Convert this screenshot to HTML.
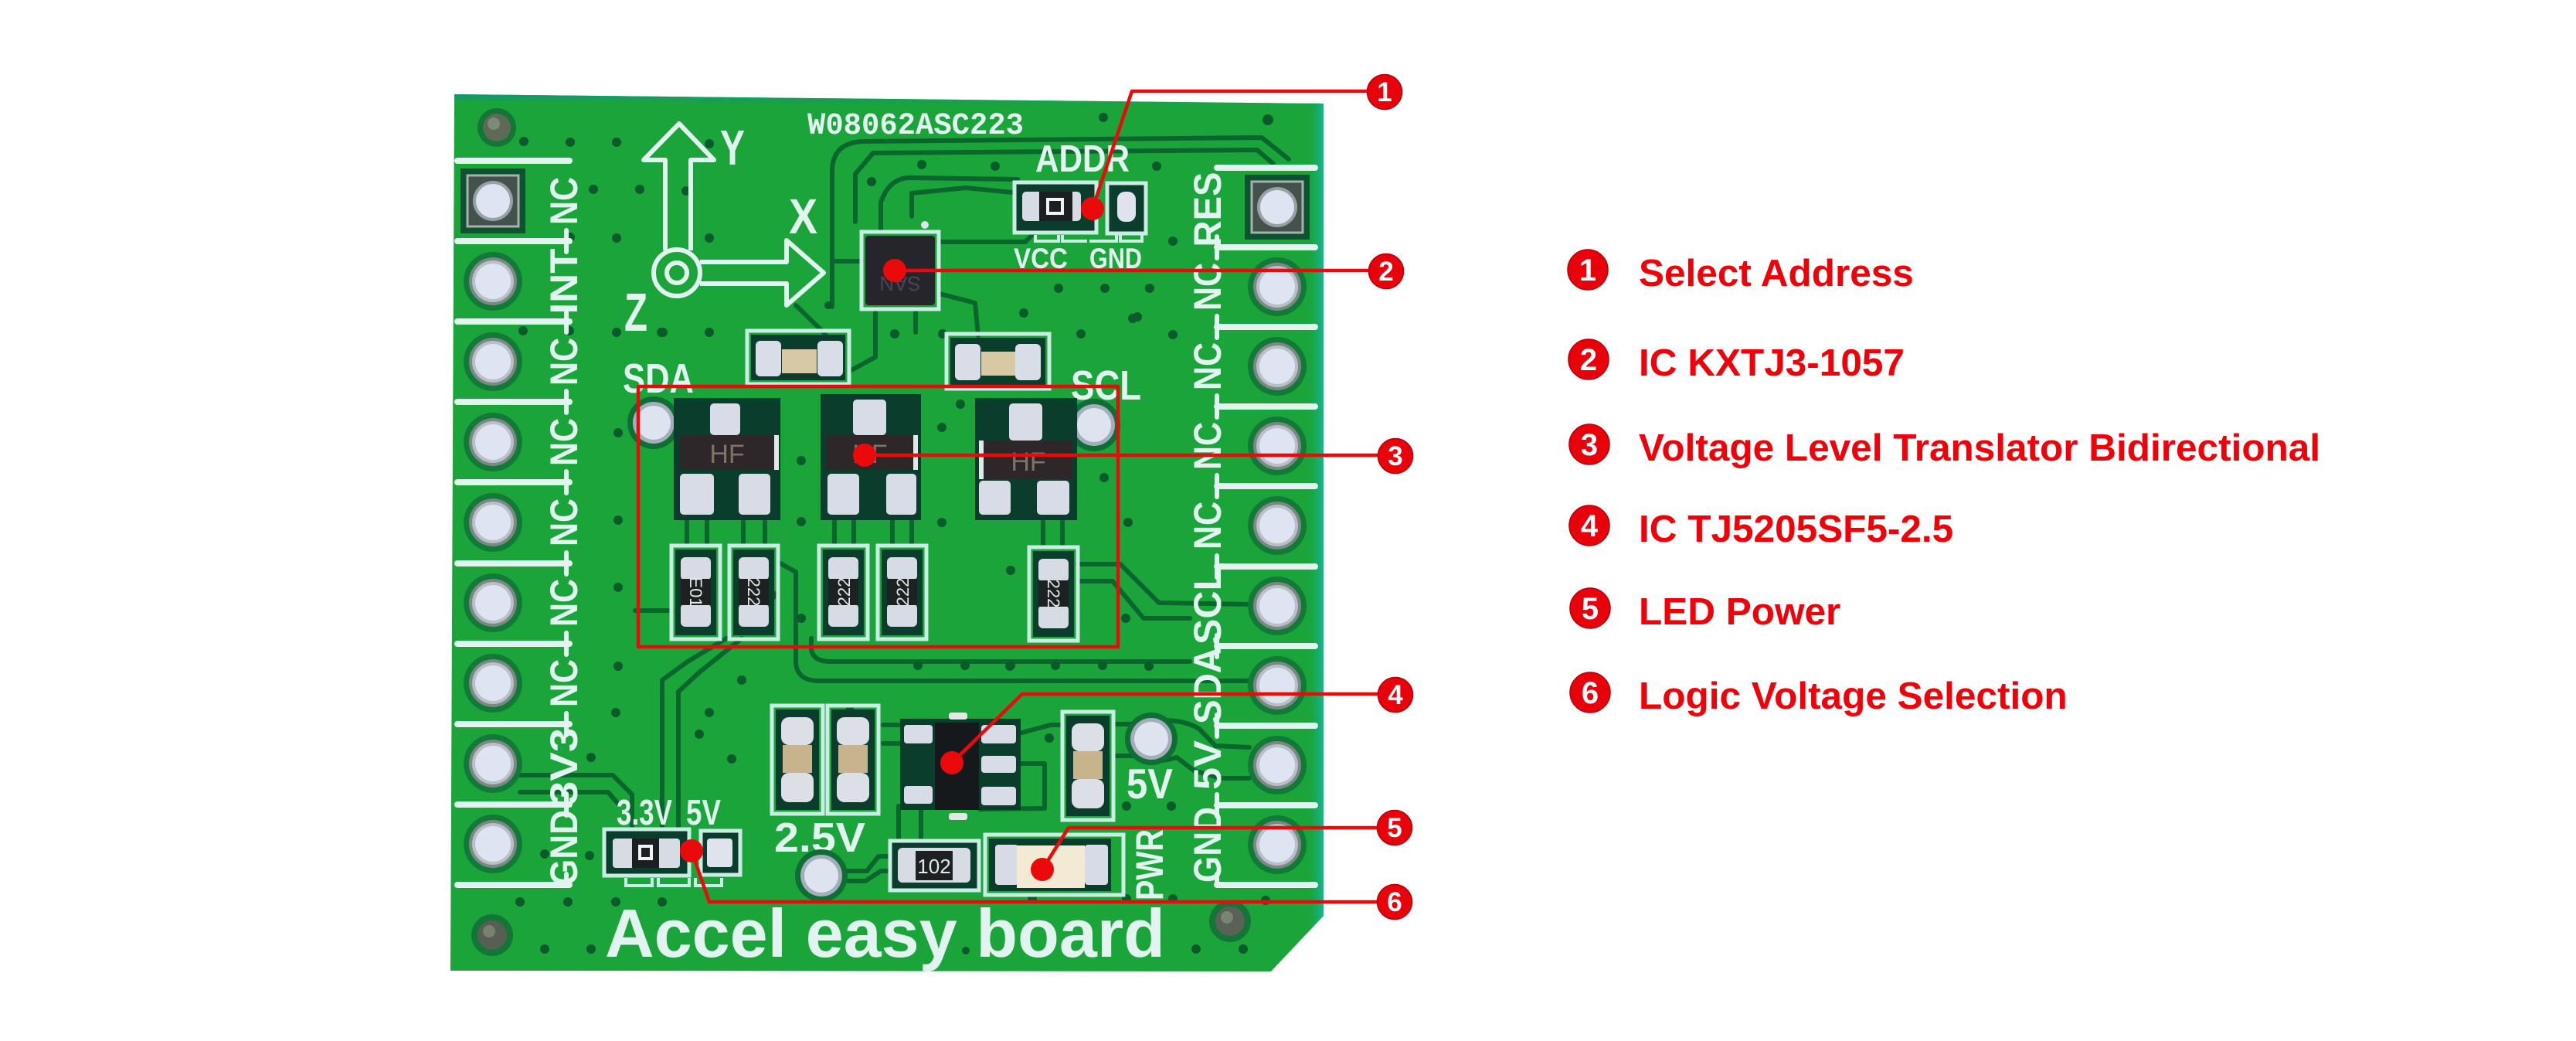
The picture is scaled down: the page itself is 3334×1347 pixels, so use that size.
<!DOCTYPE html>
<html><head><meta charset="utf-8"><style>
html,body{margin:0;padding:0;background:#fff;}
svg{display:block;}
.sk{font-family:"Liberation Sans",sans-serif;font-weight:bold;fill:#e2f4ef;}
.lg{font-family:"Liberation Sans",sans-serif;font-weight:bold;fill:#f00008;font-size:49.5px;}
.num{font-family:"Liberation Sans",sans-serif;font-weight:bold;fill:#fff;text-anchor:middle;}
</style></head><body>
<svg width="3334" height="1347" viewBox="0 0 3334 1347" xmlns="http://www.w3.org/2000/svg">
<defs>
<linearGradient id="edgeR" x1="0" x2="1" y1="0" y2="0">
<stop offset="0" stop-color="#1ba43a" stop-opacity="0"/><stop offset="1" stop-color="#12b89a" stop-opacity="1"/></linearGradient>
<linearGradient id="edgeT" x1="0" x2="0" y1="0" y2="1">
<stop offset="0" stop-color="#12947a"/><stop offset="1" stop-color="#1ba43a" stop-opacity="0"/></linearGradient>
<g id="pr"><circle r="38" fill="#127a37"/><circle r="31" fill="#7b8884"/><circle r="27" fill="#b7c0c6"/><circle r="23" fill="#dee4f1"/></g>
<g id="ps"><rect x="-42" y="-42" width="84" height="84" fill="#0d5330"/><rect x="-33" y="-33" width="66" height="66" fill="#44524e" stroke="#a9b1ae" stroke-width="3"/><circle r="26" fill="#98a1a3"/><circle r="22" fill="#dee4f1"/></g>
<g id="tp"><circle r="34" fill="#0f6e33"/><circle r="27" fill="#a3adbb"/><circle r="22" fill="#dde3ef"/></g>
<g id="vr"><rect x="-31" y="-60" width="63" height="121" fill="none" stroke="#c9ede4" stroke-width="5"/><rect x="-26" y="-55" width="53" height="111" fill="#0a3d2b"/><rect x="-19" y="-45" width="39" height="30" rx="6" fill="#d6dbe4"/><rect x="-19" y="15" width="39" height="30" rx="6" fill="#d6dbe4"/><rect x="-19" y="-17" width="39" height="34" fill="#1d2122"/></g>
<g id="bc"><rect x="-33" y="-70" width="66" height="140" fill="none" stroke="#c9ede4" stroke-width="5"/><rect x="-28" y="-65" width="56" height="130" fill="#0a3d2b"/><rect x="-21" y="-55" width="42" height="36" rx="10" fill="#dcdfe6"/><rect x="-19" y="-19" width="38" height="36" fill="#c8b48c"/><rect x="-21" y="17" width="42" height="38" rx="10" fill="#dcdfe6"/></g>
</defs>

<!-- PCB -->
<path d="M588,122 L1713,134 L1713,1185 L1645,1257 L583,1256 Z" fill="#1ba43a"/>
<path d="M1690,133 L1713,134 L1713,1185 L1690,1210 Z" fill="url(#edgeR)"/>
<path d="M588,122 L1713,134 L1713,142 L588,130 Z" fill="url(#edgeT)"/>

<!-- traces -->
<g fill="none" stroke="#0b662d" stroke-width="6" stroke-linejoin="round" stroke-linecap="round">
<path d="M1077,397 L1077,222 Q1077,183 1120,183 L1633,178 L1668,206"/>
<path d="M1107,287 L1107,225 L1130,198 L1627,194 L1648,212"/>
<path d="M1140,297 L1140,262 Q1150,232 1175,230 L1317,232"/>
<path d="M1180,280 L1180,250 L1250,243 L1320,250"/>
<path d="M1215,313 L1327,313 L1340,300"/>
<path d="M1077,338 L1115,338"/>
<path d="M1133,400 L1133,462 L1100,480"/>
<path d="M1185,400 L1185,430"/>
<path d="M1216,380 L1262,392 L1266,434"/>
<path d="M1030,395 L1068,432"/>
<path d="M889,666 L889,705 M915,666 L915,705 M962,666 L962,705 M990,666 L990,705"/>
<path d="M1080,666 L1080,705 M1105,666 L1105,705 M1155,666 L1155,705 M1180,666 L1180,705"/>
<path d="M1350,666 L1350,708 M1375,666 L1375,708"/>
<path d="M1008,728 L1030,740 L1030,855 Q1030,881 1060,881 L1618,881"/>
<path d="M1050,826 L1050,840 Q1052,856 1075,856 L1540,856"/>
<path d="M1395,730 L1450,730 L1500,780 L1618,782"/>
<path d="M1395,752 L1440,752 L1480,800 L1540,800"/>
<path d="M960,826 L905,870 L878,895 L878,1073"/>
<path d="M940,826 L890,856 L857,880 L857,1073"/>
<path d="M673,1003 L793,1003 L818,1028 L818,1073"/>
<path d="M673,1025 L787,1025 L800,1040"/>
<path d="M822,790 L869,790"/>
<path d="M1143,938 L1170,938 M1143,962 L1170,962"/>
<path d="M1163,1043 L1163,1088 M1192,1043 L1192,1088"/>
<path d="M1315,950 L1360,938 L1372,938"/>
<path d="M1315,988 L1352,988 L1352,1046 L1268,1047"/>
<path d="M1444,937 L1465,937 M1501,933 Q1530,930 1552,943 L1573,965 L1617,967"/>
<path d="M1444,978 L1469,978 Q1490,990 1523,980 L1545,997 L1580,1007 L1617,1007"/>
<path d="M1090,1127 L1122,1127 L1137,1108 L1152,1108"/>
<path d="M1093,1140 L1120,1140 L1140,1127 L1152,1127"/>
<path d="M874,547 L905,540 L919,540"/>
<path d="M1388,550 L1360,545"/>
</g>

<!-- vias -->
<g fill="#0a5b2a">
<circle cx="678" cy="183" r="6"/><circle cx="738" cy="184" r="6"/><circle cx="798" cy="184" r="6"/><circle cx="918" cy="186" r="6"/>
<circle cx="768" cy="245" r="6"/><circle cx="828" cy="245" r="6"/><circle cx="888" cy="247" r="6"/>
<circle cx="738" cy="307" r="6"/><circle cx="798" cy="308" r="6"/><circle cx="918" cy="308" r="6"/>
<circle cx="677" cy="428" r="6"/><circle cx="737" cy="428" r="6"/><circle cx="798" cy="430" r="6"/><circle cx="858" cy="430" r="6"/><circle cx="918" cy="430" r="6"/>
<circle cx="1428" cy="152" r="6"/><circle cx="1497" cy="215" r="6"/><circle cx="1518" cy="312" r="6"/><circle cx="1641" cy="155" r="7"/>
<circle cx="1370" cy="373" r="6"/><circle cx="1430" cy="373" r="6"/><circle cx="1488" cy="373" r="6"/>
<circle cx="1325" cy="405" r="6"/><circle cx="1472" cy="410" r="6"/><circle cx="1518" cy="433" r="6"/>
<circle cx="1193" cy="213" r="6"/><circle cx="1288" cy="215" r="6"/><circle cx="1128" cy="235" r="6"/>
<circle cx="1072" cy="395" r="5"/><circle cx="1158" cy="432" r="6"/><circle cx="1220" cy="432" r="6"/>
<circle cx="856" cy="430" r="6"/><circle cx="1399" cy="432" r="6"/><circle cx="1466" cy="412" r="6"/>
<circle cx="987" cy="538" r="6"/><circle cx="1037" cy="596" r="6"/><circle cx="1219" cy="553" r="6"/><circle cx="1243" cy="523" r="6"/>
<circle cx="1429" cy="618" r="6"/><circle cx="1037" cy="675" r="6"/><circle cx="1219" cy="676" r="6"/><circle cx="1460" cy="676" r="6"/>
<circle cx="1308" cy="738" r="6"/><circle cx="1457" cy="800" r="6"/><circle cx="1037" cy="800" r="6"/>
<circle cx="1188" cy="861" r="6"/><circle cx="1249" cy="861" r="6"/><circle cx="1308" cy="861" r="6"/><circle cx="1366" cy="861" r="6"/><circle cx="1427" cy="861" r="6"/>
<circle cx="1307" cy="862" r="6"/><circle cx="1487" cy="862" r="6"/>
<circle cx="800" cy="673" r="6"/><circle cx="800" cy="560" r="6"/><circle cx="800" cy="760" r="6"/><circle cx="800" cy="862" r="6"/>
<circle cx="797" cy="922" r="6"/><circle cx="918" cy="922" r="6"/><circle cx="905" cy="950" r="6"/><circle cx="765" cy="980" r="6"/><circle cx="947" cy="982" r="6"/>
<circle cx="705" cy="1105" r="6"/><circle cx="763" cy="1107" r="6"/>
<circle cx="673" cy="1167" r="6"/><circle cx="735" cy="1167" r="6"/><circle cx="797" cy="1167" r="6"/><circle cx="857" cy="1167" r="6"/>
<circle cx="705" cy="1228" r="6"/><circle cx="765" cy="1228" r="6"/>
<circle cx="1358" cy="955" r="6"/><circle cx="1458" cy="1043" r="6"/><circle cx="1516" cy="1043" r="6"/>
<circle cx="1336" cy="1163" r="6"/><circle cx="1458" cy="1163" r="6"/><circle cx="1518" cy="1163" r="6"/><circle cx="1638" cy="1165" r="6"/>
<circle cx="1548" cy="1228" r="6"/><circle cx="1609" cy="1228" r="6"/><circle cx="1250" cy="1230" r="5"/>
<circle cx="1000" cy="770" r="6"/><circle cx="960" cy="880" r="6"/><circle cx="1100" cy="920" r="6"/>
</g>

<!-- mounting holes -->
<circle cx="643" cy="165" r="25" fill="#137637"/><circle cx="643" cy="165" r="18" fill="#5d6a56"/><circle cx="639" cy="160" r="8" fill="#7e8a76"/>
<circle cx="637" cy="1210" r="27" fill="#137637"/><circle cx="637" cy="1210" r="19" fill="#565f52"/><circle cx="633" cy="1205" r="8" fill="#78826f"/>
<circle cx="1592" cy="1192" r="27" fill="#137637"/><circle cx="1592" cy="1192" r="19" fill="#5a6156"/><circle cx="1588" cy="1187" r="8" fill="#7b8474"/>

<!-- separator lines -->
<g stroke="#e2f4ef" stroke-width="8" stroke-linecap="round" fill="none">
<path d="M592,208 H737 M592,312 H737 M592,416 H737 M592,520 H737 M592,624 H737 M592,729 H737 M592,833 H737 M592,937 H737 M592,1041 H737 M592,1145 H737"/>
<path d="M1575,217 H1702 M1575,320 H1702 M1575,423 H1702 M1575,526 H1702 M1575,629 H1702 M1575,733 H1702 M1575,836 H1702 M1575,939 H1702 M1575,1042 H1702 M1575,1145 H1702"/>
<path d="M733,298 V326 M733,402 V430 M733,506 V534 M733,610 V638 M733,715 V743 M733,819 V847 M733,923 V951 M733,1027 V1055 M733,1131 V1145" stroke-width="6"/>
<path d="M1575,306 V334 M1575,409 V437 M1575,512 V540 M1575,615 V643 M1575,719 V747 M1575,822 V850 M1575,925 V953 M1575,1028 V1056 M1575,1131 V1145" stroke-width="6"/>
</g>

<!-- pins -->
<use href="#ps" x="638" y="260"/>
<use href="#pr" x="638" y="364"/><use href="#pr" x="638" y="468"/><use href="#pr" x="638" y="572"/><use href="#pr" x="638" y="676"/>
<use href="#pr" x="638" y="780"/><use href="#pr" x="638" y="884"/><use href="#pr" x="638" y="988"/><use href="#pr" x="638" y="1092"/>
<use href="#ps" x="1653" y="268"/>
<use href="#pr" x="1653" y="371"/><use href="#pr" x="1653" y="474"/><use href="#pr" x="1653" y="577"/><use href="#pr" x="1653" y="680"/>
<use href="#pr" x="1653" y="784"/><use href="#pr" x="1653" y="887"/><use href="#pr" x="1653" y="990"/><use href="#pr" x="1653" y="1093"/>

<!-- pin labels -->
<g class="sk" font-size="50" text-anchor="middle">
<text transform="translate(729,260) rotate(-90)" y="18" textLength="62" lengthAdjust="spacingAndGlyphs">NC</text>
<text transform="translate(729,364) rotate(-90)" y="18" textLength="85" lengthAdjust="spacingAndGlyphs">INT</text>
<text transform="translate(729,468) rotate(-90)" y="18" textLength="62" lengthAdjust="spacingAndGlyphs">NC</text>
<text transform="translate(729,572) rotate(-90)" y="18" textLength="62" lengthAdjust="spacingAndGlyphs">NC</text>
<text transform="translate(729,676) rotate(-90)" y="18" textLength="62" lengthAdjust="spacingAndGlyphs">NC</text>
<text transform="translate(729,780) rotate(-90)" y="18" textLength="62" lengthAdjust="spacingAndGlyphs">NC</text>
<text transform="translate(729,884) rotate(-90)" y="18" textLength="62" lengthAdjust="spacingAndGlyphs">NC</text>
<text transform="translate(729,992) rotate(-90)" y="18" textLength="100" lengthAdjust="spacingAndGlyphs">3V3</text>
<text transform="translate(729,1097) rotate(-90)" y="18" textLength="98" lengthAdjust="spacingAndGlyphs">GND</text>
<text transform="translate(1562,271) rotate(-90)" y="18" textLength="97" lengthAdjust="spacingAndGlyphs">RES</text>
<text transform="translate(1562,371) rotate(-90)" y="18" textLength="62" lengthAdjust="spacingAndGlyphs">NC</text>
<text transform="translate(1562,474) rotate(-90)" y="18" textLength="62" lengthAdjust="spacingAndGlyphs">NC</text>
<text transform="translate(1562,577) rotate(-90)" y="18" textLength="62" lengthAdjust="spacingAndGlyphs">NC</text>
<text transform="translate(1562,680) rotate(-90)" y="18" textLength="62" lengthAdjust="spacingAndGlyphs">NC</text>
<text transform="translate(1562,784) rotate(-90)" y="18" textLength="100" lengthAdjust="spacingAndGlyphs">SCL</text>
<text transform="translate(1562,887) rotate(-90)" y="18" textLength="100" lengthAdjust="spacingAndGlyphs">SDA</text>
<text transform="translate(1562,990) rotate(-90)" y="18" textLength="64" lengthAdjust="spacingAndGlyphs">5V</text>
<text transform="translate(1562,1093) rotate(-90)" y="18" textLength="98" lengthAdjust="spacingAndGlyphs">GND</text>
<text transform="translate(1487,1119) rotate(-90)" y="18" textLength="92" lengthAdjust="spacingAndGlyphs">PWR</text>
</g>

<!-- other silkscreen text -->
<g class="sk">
<text x="1045" y="173" font-size="40" textLength="280" lengthAdjust="spacingAndGlyphs" font-family="Liberation Mono, monospace">W08062ASC223</text>
<text x="1340" y="222" font-size="49" textLength="122" lengthAdjust="spacingAndGlyphs">ADDR</text>
<text x="1312" y="347" font-size="37" textLength="70" lengthAdjust="spacingAndGlyphs">VCC</text>
<text x="1410" y="347" font-size="37" textLength="68" lengthAdjust="spacingAndGlyphs">GND</text>
<text x="806" y="508" font-size="54" textLength="92" lengthAdjust="spacingAndGlyphs">SDA</text>
<text x="1386" y="517" font-size="54" textLength="91" lengthAdjust="spacingAndGlyphs">SCL</text>
<text x="1002" y="1102" font-size="54" textLength="118" lengthAdjust="spacingAndGlyphs">2.5V</text>
<text x="1458" y="1033" font-size="55" textLength="60" lengthAdjust="spacingAndGlyphs">5V</text>
<text x="798" y="1067" font-size="46" textLength="72" lengthAdjust="spacingAndGlyphs">3.3V</text>
<text x="888" y="1067" font-size="46" textLength="45" lengthAdjust="spacingAndGlyphs">5V</text>
<text x="932" y="213" font-size="64" textLength="32" lengthAdjust="spacingAndGlyphs">Y</text>
<text x="1021" y="302" font-size="64" textLength="37" lengthAdjust="spacingAndGlyphs">X</text>
<text x="808" y="428" font-size="70" textLength="30" lengthAdjust="spacingAndGlyphs">Z</text>
<text x="783" y="1238" font-size="88" textLength="725" lengthAdjust="spacingAndGlyphs">Accel easy board</text>
</g>

<!-- axis symbol -->
<g fill="none" stroke="#e2f4ef" stroke-width="6" stroke-linejoin="round">
<circle cx="876" cy="353" r="30"/><circle cx="876" cy="353" r="13"/>
<path d="M861,324 L861,207 L833,207 L879,160 L924,207 L894,207 L894,324"/>
<path d="M906,339 L1018,339 L1018,311 L1066,353 L1018,395 L1018,367 L906,367"/>
</g>

<!-- ADDR jumper -->
<rect x="1313" y="236" width="106" height="65" fill="#0a3d2b" stroke="#c9ede4" stroke-width="5"/>
<rect x="1323" y="248" width="76" height="38" rx="5" fill="#d6dbe4"/>
<rect x="1345" y="248" width="43" height="38" fill="#1b1f21"/>
<rect x="1356" y="258" width="19" height="18" fill="none" stroke="#f2f2f2" stroke-width="4"/>
<rect x="1433" y="237" width="50" height="65" fill="#0a3d2b" stroke="#c9ede4" stroke-width="5"/>
<rect x="1446" y="248" width="24" height="39" rx="10" fill="#dfe3ee"/>
<path d="M1340,304 v8 h30 v-8 M1375,304 v8 h32 M1410,312 h35 v-8 M1450,304 v8 h28 v-8" fill="none" stroke="#c9ede4" stroke-width="4"/>

<!-- accelerometer IC -->
<rect x="1115" y="300" width="100" height="100" fill="none" stroke="#c9ede4" stroke-width="5"/>
<rect x="1120" y="305" width="90" height="90" rx="4" fill="#27252c"/>
<text x="1165" y="342" transform="rotate(180 1165 350)" font-family="Liberation Sans,sans-serif" font-size="26" fill="#4a4650" text-anchor="middle">SAN</text>
<circle cx="1197" cy="291" r="5" fill="#dfe3ee"/>

<!-- top caps -->
<rect x="967" y="428" width="132" height="69" fill="none" stroke="#c9ede4" stroke-width="5"/>
<rect x="972" y="433" width="122" height="59" fill="#0a3d2b"/>
<rect x="978" y="441" width="33" height="46" rx="6" fill="#d9dde8"/><rect x="1058" y="441" width="33" height="46" rx="6" fill="#d9dde8"/>
<rect x="1012" y="452" width="45" height="31" fill="#d8c9a5"/>
<rect x="1225" y="432" width="133" height="71" fill="none" stroke="#c9ede4" stroke-width="5"/>
<rect x="1230" y="437" width="123" height="61" fill="#0a3d2b"/>
<rect x="1236" y="445" width="33" height="47" rx="6" fill="#d9dde8"/><rect x="1314" y="445" width="33" height="47" rx="6" fill="#d9dde8"/>
<rect x="1270" y="455" width="44" height="31" fill="#d8c9a5"/>

<!-- test pads -->
<use href="#tp" x="846" y="547"/><use href="#tp" x="1416" y="550"/><use href="#tp" x="1490" y="956"/><use href="#tp" x="1063" y="1133"/>

<!-- transistors -->
<g>
<rect x="872" y="515" width="138" height="158" fill="#0a3d2b"/>
<rect x="919" y="522" width="39" height="41" rx="5" fill="#d8dce7"/>
<rect x="880" y="563" width="122" height="45" fill="#2d2729"/>
<rect x="1002" y="563" width="6" height="45" fill="#dfe9e6"/>
<text x="941" y="599" font-family="Liberation Sans,sans-serif" font-size="34" fill="#7d7466" text-anchor="middle">HF</text>
<rect x="880" y="613" width="44" height="53" rx="5" fill="#d8dce7"/><rect x="956" y="613" width="41" height="53" rx="5" fill="#d8dce7"/>

<rect x="1062" y="510" width="130" height="163" fill="#0a3d2b"/>
<rect x="1104" y="517" width="43" height="46" rx="5" fill="#d8dce7"/>
<rect x="1069" y="563" width="113" height="45" fill="#2d2729"/>
<rect x="1182" y="563" width="6" height="45" fill="#dfe9e6"/>
<text x="1126" y="599" font-family="Liberation Sans,sans-serif" font-size="34" fill="#7d7466" text-anchor="middle">HF</text>
<rect x="1071" y="613" width="41" height="53" rx="5" fill="#d8dce7"/><rect x="1147" y="613" width="39" height="53" rx="5" fill="#d8dce7"/>

<rect x="1262" y="515" width="132" height="158" fill="#0a3d2b"/>
<rect x="1306" y="522" width="43" height="48" rx="5" fill="#d8dce7"/>
<rect x="1273" y="570" width="115" height="50" fill="#2d2729"/>
<rect x="1267" y="570" width="6" height="50" fill="#dfe9e6"/>
<text x="1331" y="609" font-family="Liberation Sans,sans-serif" font-size="34" fill="#7d7466" text-anchor="middle">HF</text>
<rect x="1267" y="622" width="41" height="44" rx="5" fill="#d8dce7"/><rect x="1342" y="622" width="42" height="44" rx="5" fill="#d8dce7"/>
</g>

<!-- resistors -->
<use href="#vr" x="900" y="766"/><use href="#vr" x="975" y="766"/><use href="#vr" x="1091" y="766"/><use href="#vr" x="1167" y="766"/><use href="#vr" x="1363" y="768"/>
<g font-family="Liberation Sans,sans-serif" font-size="22" fill="#e8e8e8" text-anchor="middle">
<text transform="translate(901,766) rotate(90)" y="8">E01</text>
<text transform="translate(976,766) rotate(90)" y="8">222</text>
<text transform="translate(1092,766) rotate(-90)" y="8">222</text>
<text transform="translate(1168,766) rotate(-90)" y="8">222</text>
<text transform="translate(1364,768) rotate(90)" y="8">222</text>
</g>

<!-- bottom caps -->
<use href="#bc" x="1032" y="983"/><use href="#bc" x="1104" y="983"/><use href="#bc" x="1408" y="991"/>

<!-- regulator -->
<rect x="1165" y="930" width="156" height="118" fill="#0a3d2b"/>
<rect x="1170" y="938" width="37" height="24" rx="4" fill="#d8dce7"/><rect x="1170" y="1017" width="37" height="23" rx="4" fill="#d8dce7"/>
<rect x="1270" y="938" width="45" height="24" rx="4" fill="#d8dce7"/><rect x="1270" y="978" width="45" height="22" rx="4" fill="#d8dce7"/><rect x="1270" y="1018" width="45" height="24" rx="4" fill="#d8dce7"/>
<rect x="1210" y="935" width="57" height="113" fill="#16191c"/>
<rect x="1228" y="922" width="24" height="9" rx="3" fill="#dfe9e6"/><rect x="1228" y="1052" width="24" height="9" rx="3" fill="#dfe9e6"/>

<!-- resistor 102 -->
<rect x="1152" y="1088" width="115" height="64" fill="#0a3d2b" stroke="#c9ede4" stroke-width="5"/>
<rect x="1162" y="1097" width="94" height="45" rx="6" fill="#d6dbe4"/>
<rect x="1185" y="1101" width="48" height="38" fill="#1d2122"/>
<text x="1209" y="1130" font-family="Liberation Sans,sans-serif" font-size="26" fill="#e8e8e8" text-anchor="middle">102</text>

<!-- LED -->
<rect x="1275" y="1080" width="179" height="78" fill="none" stroke="#c9ede4" stroke-width="5"/>
<rect x="1280" y="1085" width="158" height="68" fill="#0a3d2b"/>
<rect x="1288" y="1093" width="30" height="52" rx="4" fill="#d6dbe6"/>
<rect x="1316" y="1094" width="88" height="55" fill="#f2ead2"/>
<rect x="1404" y="1093" width="30" height="52" rx="4" fill="#d6dbe6"/>

<!-- 3.3V/5V jumper -->
<rect x="782" y="1073" width="110" height="60" fill="#0a3d2b" stroke="#c9ede4" stroke-width="5"/>
<rect x="793" y="1085" width="87" height="38" rx="4" fill="#d6dbe4"/>
<rect x="818" y="1085" width="35" height="38" fill="#1b1f21"/>
<rect x="828" y="1095" width="15" height="16" fill="none" stroke="#f2f2f2" stroke-width="4"/>
<rect x="907" y="1075" width="51" height="57" fill="#0a3d2b" stroke="#c9ede4" stroke-width="5"/>
<rect x="915" y="1085" width="33" height="37" rx="4" fill="#dfe3ee"/>
<path d="M810,1136 v10 h34 v-10 M852,1136 v10 h40 v-10 M900,1136 v10 h34 v-10" fill="none" stroke="#c9ede4" stroke-width="4"/>

<!-- callouts on board -->
<g fill="none" stroke="#ea0a0c" stroke-width="4.5" stroke-linejoin="round">
<polyline points="1414,270 1465,118 1792,118"/>
<polyline points="1158,350 1794,350"/>
<polyline points="1119,589 1806,589"/>
<polyline points="1232,987 1323,898 1806,898"/>
<polyline points="1349,1125 1383,1071 1805,1071"/>
<polyline points="895,1101 918,1167 1805,1167"/>
<rect x="826" y="500" width="621" height="337"/>
</g>
<g fill="#ea0a0c">
<circle cx="1414" cy="270" r="15"/><circle cx="1158" cy="350" r="15"/><circle cx="1119" cy="589" r="15"/>
<circle cx="1232" cy="987" r="15"/><circle cx="1349" cy="1125" r="15"/><circle cx="895" cy="1101" r="15"/>
</g>
<g fill="#e8000b" stroke="#b3000a" stroke-width="1.5">
<circle cx="1792" cy="119" r="22.5"/><circle cx="1794" cy="351" r="22.5"/><circle cx="1806" cy="590" r="22.5"/>
<circle cx="1806" cy="899" r="22.5"/><circle cx="1805" cy="1071" r="22.5"/><circle cx="1805" cy="1167" r="22.5"/>
</g>
<g class="num" font-size="35">
<text x="1792" y="131">1</text><text x="1794" y="363">2</text><text x="1806" y="602">3</text>
<text x="1806" y="911">4</text><text x="1805" y="1083">5</text><text x="1805" y="1179">6</text>
</g>

<!-- legend -->
<g fill="#e8000b" stroke="#b3000a" stroke-width="1.5">
<circle cx="2055" cy="349" r="26"/><circle cx="2056" cy="465" r="26"/><circle cx="2057" cy="575" r="26"/>
<circle cx="2057" cy="680" r="26"/><circle cx="2058" cy="787" r="26"/><circle cx="2058" cy="896" r="26"/>
</g>
<g class="num" font-size="40">
<text x="2055" y="363">1</text><text x="2056" y="479">2</text><text x="2057" y="589">3</text>
<text x="2057" y="694">4</text><text x="2058" y="801">5</text><text x="2058" y="910">6</text>
</g>
<g class="lg">
<text x="2121" y="370">Select Address</text>
<text x="2121" y="486">IC KXTJ3-1057</text>
<text x="2121" y="596">Voltage Level Translator Bidirectional</text>
<text x="2121" y="701">IC TJ5205SF5-2.5</text>
<text x="2121" y="808">LED Power</text>
<text x="2121" y="917">Logic Voltage Selection</text>
</g>
</svg>
</body></html>
